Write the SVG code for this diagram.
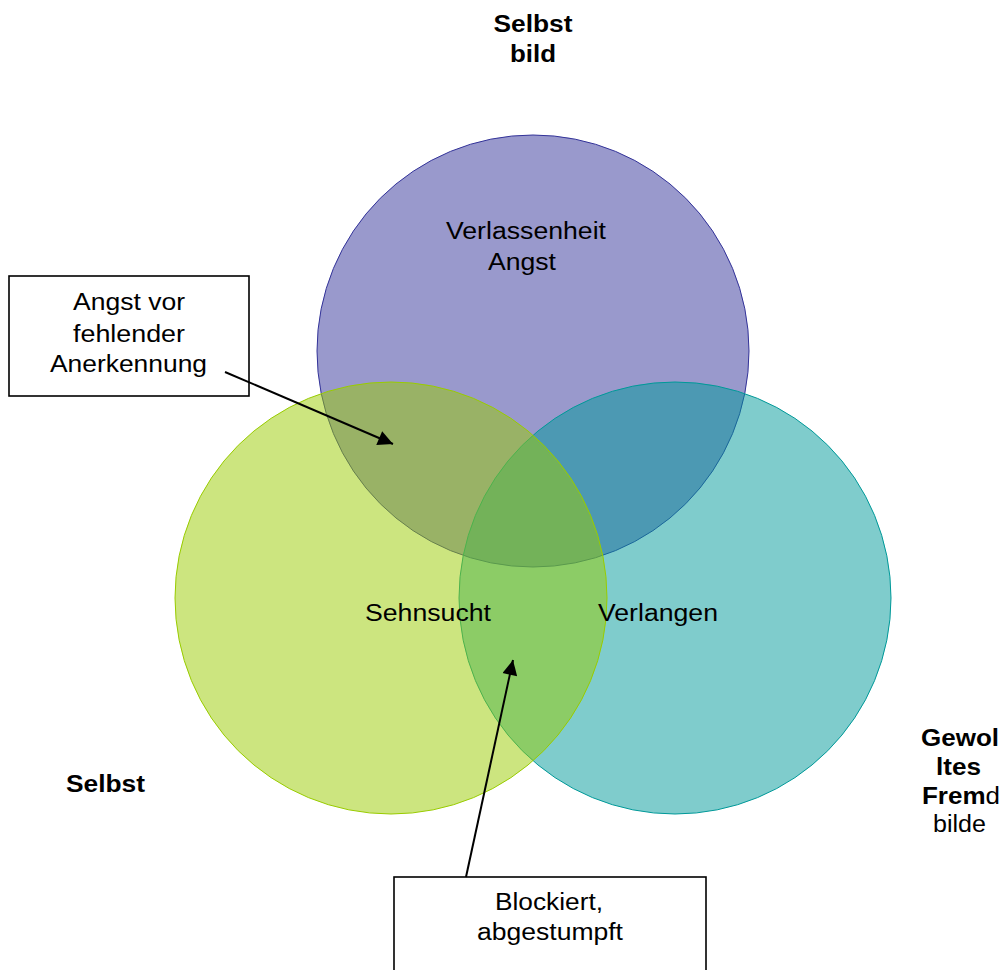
<svg xmlns="http://www.w3.org/2000/svg" width="1004" height="970" viewBox="0 0 1004 970">
<style>
text{font-family:"Liberation Sans",Arial,sans-serif;font-size:23px;fill:#000;text-anchor:middle}
.b{font-weight:bold}
.box{fill:#fff;stroke:#000;stroke-width:1.6}
.conn{stroke:#000;stroke-width:2;fill:none}
</style>
<defs>
<marker id="ah" viewBox="0 0 10 10" refX="10" refY="5" markerWidth="9" markerHeight="7.5" markerUnits="strokeWidth" orient="auto">
<path d="M0,0 L10,5 L0,10 z" fill="#000"/>
</marker>
</defs>
<rect width="1004" height="970" fill="#fff"/>
<g id="circle-selbstbild">
<circle cx="533" cy="351" r="216" fill="#333399" fill-opacity="0.5" stroke="#333399" stroke-width="1"/>
</g>
<g id="circle-fremdbild">
<circle cx="675" cy="598" r="216" fill="#009999" fill-opacity="0.5" stroke="#009999" stroke-width="1"/>
</g>
<g id="circle-selbst">
<circle cx="391" cy="598" r="216" fill="#99cc00" fill-opacity="0.5" stroke="#99cc00" stroke-width="1"/>
</g>
<g id="labels">
<text class="b" x="533" y="32" textLength="79" lengthAdjust="spacingAndGlyphs">Selbst</text>
<text class="b" x="533" y="62" textLength="46" lengthAdjust="spacingAndGlyphs">bild</text>
<text x="526" y="239" textLength="160" lengthAdjust="spacingAndGlyphs">Verlassenheit</text>
<text x="522" y="270" textLength="68" lengthAdjust="spacingAndGlyphs">Angst</text>
<text x="428" y="621" textLength="126" lengthAdjust="spacingAndGlyphs">Sehnsucht</text>
<text x="658" y="621" textLength="120" lengthAdjust="spacingAndGlyphs">Verlangen</text>
<text class="b" x="105.5" y="792" textLength="79" lengthAdjust="spacingAndGlyphs">Selbst</text>
<text class="b" x="960" y="746" textLength="78" lengthAdjust="spacingAndGlyphs">Gewol</text>
<text class="b" x="958.5" y="775" textLength="45" lengthAdjust="spacingAndGlyphs">ltes</text>
<text x="961" y="804" textLength="78" lengthAdjust="spacingAndGlyphs"><tspan class="b">Frem</tspan>d</text>
<text x="959.5" y="832" textLength="53" lengthAdjust="spacingAndGlyphs">bilde</text>
</g>
<g id="box-angst">
<rect class="box" x="9" y="276" width="240" height="120"/>
<text x="129" y="310" textLength="112" lengthAdjust="spacingAndGlyphs">Angst vor</text>
<text x="129" y="342" textLength="112" lengthAdjust="spacingAndGlyphs">fehlender</text>
<text x="128.5" y="372" textLength="157" lengthAdjust="spacingAndGlyphs">Anerkennung</text>
</g>
<g id="box-blockiert">
<rect class="box" x="394" y="877" width="312" height="100"/>
<text x="549" y="910" textLength="108" lengthAdjust="spacingAndGlyphs">Blockiert,</text>
<text x="550" y="940" textLength="146" lengthAdjust="spacingAndGlyphs">abgestumpft</text>
</g>
<g id="connectors">
<line class="conn" x1="225" y1="372" x2="393" y2="444" marker-end="url(#ah)"/>
<line class="conn" x1="466" y1="877" x2="513" y2="660" marker-end="url(#ah)"/>
</g>
</svg>
